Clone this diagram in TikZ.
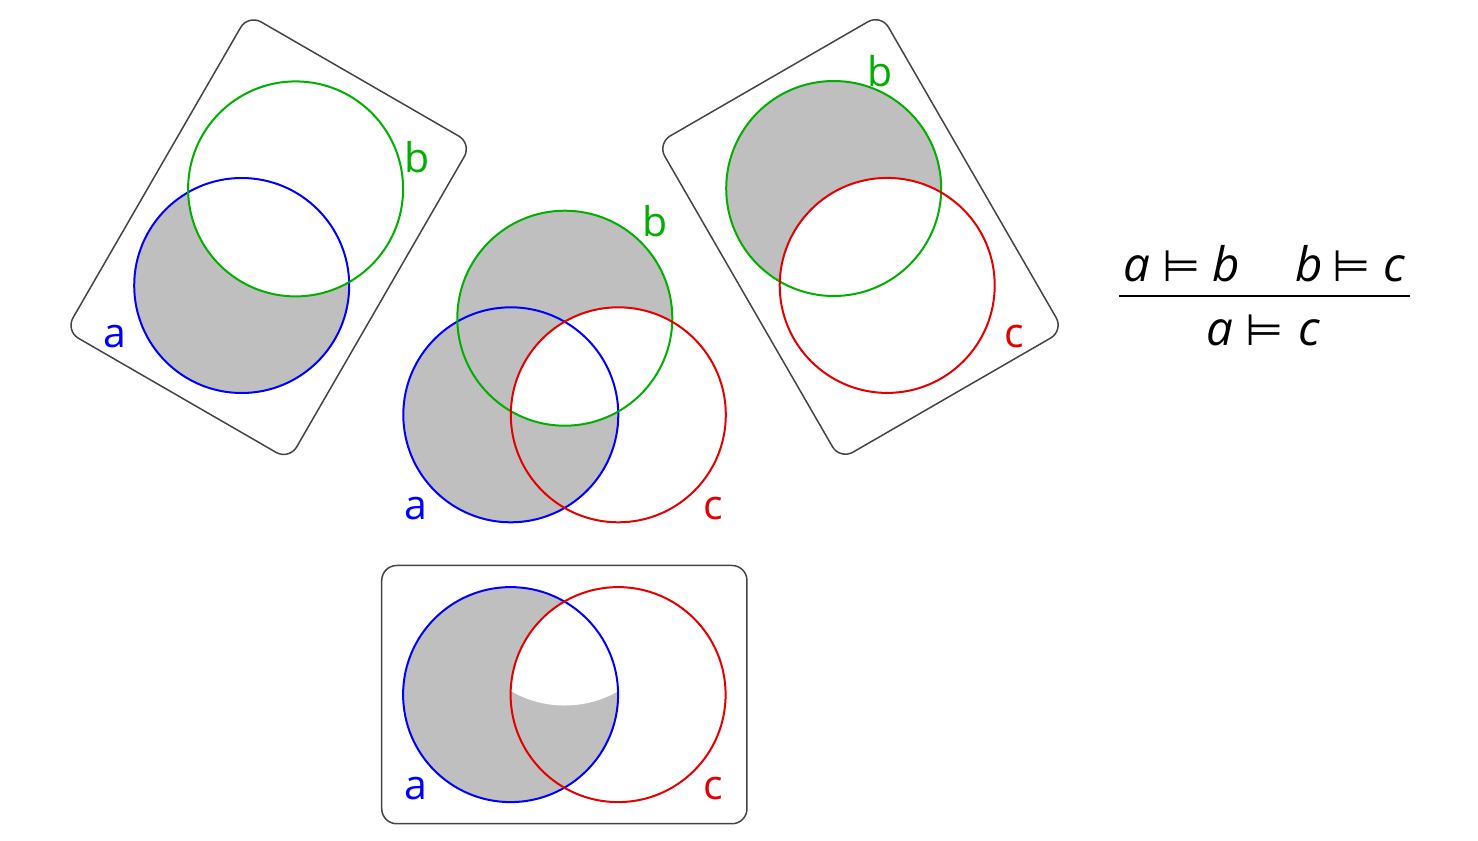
\documentclass[tikz,border=0pt]{standalone}
\usepackage{fontspec}
\setmainfont{Open Sans}
\newfontfamily\symfont{DejaVu Sans}
\definecolor{cA}{RGB}{0,0,255}
\definecolor{cB}{RGB}{0,175,0}
\definecolor{cC}{RGB}{228,0,0}
\definecolor{shadecol}{RGB}{191,191,191}
\definecolor{framecol}{RGB}{68,68,68}
\newcommand{\ent}{{\fontsize{17.5}{22}\symfont ⊨}}
\begin{document}
\begin{tikzpicture}[x=0.4pt,y=-0.4pt,
  ring/.style={line width=0.8pt},
  vbox/.style={draw=framecol, line width=0.6pt, rounded corners=6pt,
    minimum width=146.1pt, minimum height=103.3pt, inner sep=0pt},
  lbl/.style={anchor=base, inner sep=0pt, font=\fontsize{16.4}{20}\selectfont},
  frm/.style={anchor=base, inner sep=0pt, font=\fontsize{19}{22}\selectfont\itshape}]
\useasboundingbox (0,0) rectangle (1478,840);
\def\R{107.5}
% centres
\coordinate (aL) at (241.7,285.5);
\coordinate (bL) at (295.6,188.9);
\coordinate (aM) at (510.8,414.8);
\coordinate (bM) at (564.8,318.2);
\coordinate (cM) at (618.3,414.8);
\coordinate (bR) at (833.7,188.5);
\coordinate (cR) at (887.2,285.4);
\coordinate (aB) at (510.6,694.6);
\coordinate (cB) at (618.1,694.6);
\coordinate (bB) at (564.6,598.0);
% ---- fills
% left: a minus b
\begin{scope}
  \clip (aL) circle[radius=\R];
  \fill[shadecol] (aL) circle[radius=\R];
  \fill[white] (bL) circle[radius=\R];
\end{scope}
% middle: (a u b) minus (b n c)
\fill[shadecol] (aM) circle[radius=\R];
\fill[shadecol] (bM) circle[radius=\R];
\begin{scope}
  \clip (bM) circle[radius=\R];
  \fill[white] (cM) circle[radius=\R];
\end{scope}
% right: b minus c
\begin{scope}
  \clip (bR) circle[radius=\R];
  \fill[shadecol] (bR) circle[radius=\R];
  \fill[white] (cR) circle[radius=\R];
\end{scope}
% bottom: a minus (a n b n c)
\fill[shadecol] (aB) circle[radius=\R];
\begin{scope}
  \clip (aB) circle[radius=\R];
  \clip (cB) circle[radius=\R];
  \fill[white] (bB) circle[radius=\R];
\end{scope}
% ---- frames
\node[vbox, rotate=60] (boxL) at (268.65,237.2) {};
\node[vbox, rotate=-60] (boxR) at (860.45,236.95) {};
\node[vbox] (boxB) at (564.35,694.6) {};
% ---- circles
\draw[ring, cA] (aL) circle[radius=\R];
\draw[ring, cB] (bL) circle[radius=\R];
\draw[ring, cA] (aM) circle[radius=\R];
\draw[ring, cB] (bM) circle[radius=\R];
\draw[ring, cC] (cM) circle[radius=\R];
\draw[ring, cB] (bR) circle[radius=\R];
\draw[ring, cC] (cR) circle[radius=\R];
\draw[ring, cA] (aB) circle[radius=\R];
\draw[ring, cC] (cB) circle[radius=\R];
% ---- labels
\node[lbl, cA] (laL) at (114.7,347.3) {a};
\node[lbl, cB] (lbL) at (417.5,172.7) {b};
\node[lbl, cA] (laM) at (415.8,519.3) {a};
\node[lbl, cB] (lbM) at (655,236) {b};
\node[lbl, cC] (lcM) at (713.3,519.3) {c};
\node[lbl, cB] (lbR) at (880.5,86) {b};
\node[lbl, cC] (lcR) at (1014.7,347.3) {c};
\node[lbl, cA] (laB) at (416,799.3) {a};
\node[lbl, cC] (lcB) at (713.3,799.3) {c};
% ---- rule
\node[frm] (prem) at (1264,281.7) {a\hspace{5pt}\ent\hspace{5pt}b\hspace{22pt}b\hspace{4pt}\ent\hspace{5pt}c};
\coordinate (fl) at (1119,295.7);
\coordinate (fr) at (1410,295.7);
\draw[line width=0.8pt] (fl) -- (fr);
\node[frm] (concl) at (1263,345) {a\hspace{5pt}\ent\hspace{6pt}c};
\end{tikzpicture}
\end{document}
